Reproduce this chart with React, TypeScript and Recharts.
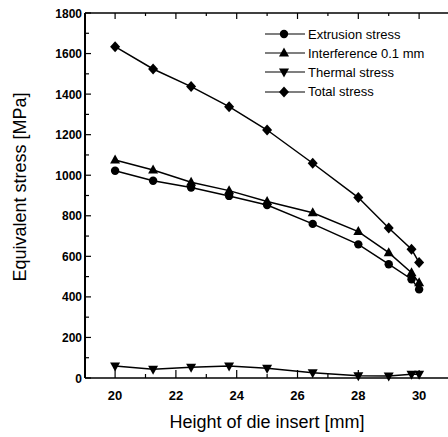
import { LineChart, Line, XAxis, YAxis } from 'recharts';

const heights = [20, 21.25, 22.5, 23.75, 25, 26.5, 28, 29, 29.75, 30];
const extrusion = [1022, 973, 939, 898, 853, 760, 659, 561, 487, 437];
const interference = [1075, 1026, 965, 924, 870, 815, 722, 618, 519, 470];
const thermal = [59, 43, 53, 59, 48, 26, 11, 10, 18, 18];
const total = [1634, 1524, 1437, 1338, 1223, 1059, 890, 740, 635, 569];

const xTicks = [20, 21, 22, 23, 24, 25, 26, 27, 28, 29, 30];
const yTicks = [0, 100, 200, 300, 400, 500, 600, 700, 800, 900, 1000, 1100, 1200, 1300, 1400, 1500, 1600, 1700, 1800];

const series = [
  { key: 'extrusion', name: 'Extrusion stress', shape: 'circle' },
  { key: 'interference', name: 'Interference 0.1 mm', shape: 'up' },
  { key: 'thermal', name: 'Thermal stress', shape: 'down' },
  { key: 'total', name: 'Total stress', shape: 'diamond' },
];

const dados = heights.map((x, i) => ({
  x,
  extrusion: extrusion[i],
  interference: interference[i],
  thermal: thermal[i],
  total: total[i],
}));

const fonte = '"Liberation Sans", Arial, sans-serif';

function marcador(shape: string, cx: number, cy: number, key?: any) {
  switch (shape) {
    case 'circle':
      return <circle key={key} cx={cx} cy={cy} r={4.2} fill="#000" />;
    case 'up':
      return <path key={key} d={`M${cx},${cy - 5.5}L${cx + 5},${cy + 3.5}L${cx - 5},${cy + 3.5}Z`} fill="#000" />;
    case 'down':
      return <path key={key} d={`M${cx},${cy + 5.5}L${cx + 5},${cy - 3.5}L${cx - 5},${cy - 3.5}Z`} fill="#000" />;
    default:
      return <path key={key} d={`M${cx},${cy - 5.5}L${cx + 5},${cy}L${cx},${cy + 5.5}L${cx - 5},${cy}Z`} fill="#000" />;
  }
}

const TickInferior = ({ x, y, payload }: any) => {
  const maior = payload.value % 2 === 0;
  return (
    <g>
      <line x1={x} x2={x} y1={y} y2={y - (maior ? 8 : 4)} stroke="#000" strokeWidth={1.2} />
      {maior && (
        <text x={x} y={y + 22} textAnchor="middle" fontSize={13} fontWeight="bold" fontFamily={fonte} fill="#000">
          {payload.value}
        </text>
      )}
    </g>
  );
};

const TickSuperior = ({ x, y, payload }: any) => {
  const maior = payload.value % 2 === 0;
  return <line x1={x} x2={x} y1={y} y2={y + (maior ? 6 : 3)} stroke="#000" strokeWidth={1.2} />;
};

const TickEsquerda = ({ x, y, payload }: any) => {
  const maior = payload.value % 200 === 0;
  return (
    <g>
      <line x1={x} x2={x + (maior ? 6 : 4)} y1={y} y2={y} stroke="#000" strokeWidth={1.2} />
      {maior && (
        <text x={x - 3} y={y + 4.5} textAnchor="end" fontSize={12} fontWeight="bold" fontFamily={fonte} fill="#000">
          {payload.value}
        </text>
      )}
    </g>
  );
};

const TickDireita = ({ x, y, payload }: any) => {
  const maior = payload.value % 200 === 0;
  return <line x1={x} x2={x - (maior ? 5 : 2.5)} y1={y} y2={y} stroke="#000" strokeWidth={1.4} />;
};

const Legenda = () => (
  <div
    style={{
      position: 'absolute',
      left: 265,
      top: 24.5,
      fontFamily: fonte,
      fontSize: 13,
      color: '#000',
      pointerEvents: 'none',
    }}
  >
    {series.map((s) => (
      <div key={s.key} style={{ display: 'flex', alignItems: 'center', height: 19.2, whiteSpace: 'nowrap' }}>
        <svg width={43} height={14} style={{ display: 'block' }}>
          <line x1={0} x2={40} y1={7} y2={7} stroke="#000" strokeWidth={1.2} />
          {marcador(s.shape, 19, 7)}
        </svg>
        <span>{s.name}</span>
      </div>
    ))}
  </div>
);

export default function App() {
  return (
    <div style={{ position: 'absolute', left: 0, top: 0, width: 448, height: 437, background: '#fff' }}>
      <LineChart width={448} height={437} data={dados} margin={{ top: 0, right: 0, bottom: 0, left: 0 }}>
        <XAxis
          xAxisId="base"
          dataKey="x"
          type="number"
          domain={[19.01, 30.95]}
          allowDataOverflow
          ticks={xTicks}
          interval={0}
          height={59}
          tickSize={0}
          tickMargin={0}
          tick={<TickInferior />}
          axisLine={{ stroke: '#000', strokeWidth: 1.5 }}
          label={{
            content: () => (
              <text x={267} y={428} textAnchor="middle" fontSize={18} fontFamily={fonte} fill="#000">
                Height of die insert [mm]
              </text>
            ),
          }}
        />
        <XAxis
          xAxisId="topo"
          orientation="top"
          dataKey="x"
          type="number"
          domain={[19.01, 30.95]}
          allowDataOverflow
          ticks={xTicks}
          interval={0}
          height={13}
          tickSize={0}
          tickMargin={0}
          tick={<TickSuperior />}
          axisLine={{ stroke: '#000', strokeWidth: 1.5 }}
        />
        <YAxis
          yAxisId="esq"
          type="number"
          domain={[0, 1800]}
          ticks={yTicks}
          interval={0}
          width={85}
          tickSize={0}
          tickMargin={0}
          tick={<TickEsquerda />}
          axisLine={{ stroke: '#000', strokeWidth: 2 }}
          label={{
            content: () => (
              <text
                x={26}
                y={187}
                textAnchor="middle"
                fontSize={18}
                fontFamily={fonte}
                fill="#000"
                transform="rotate(-90, 26, 187)"
              >
                Equivalent stress [MPa]
              </text>
            ),
          }}
        />
        <YAxis
          yAxisId="dir"
          orientation="right"
          type="number"
          domain={[0, 1800]}
          ticks={yTicks}
          interval={0}
          width={0}
          tickSize={0}
          tickMargin={0}
          tick={<TickDireita />}
          axisLine={false}
        />
        {series.map((s) => (
          <Line
            key={s.key}
            xAxisId="base"
            yAxisId="esq"
            dataKey={s.key}
            name={s.name}
            stroke="#000"
            strokeWidth={1.5}
            isAnimationActive={false}
            dot={(p: any) => marcador(s.shape, p.cx, p.cy, `${s.key}-${p.index}`)}
            activeDot={false}
          />
        ))}
      </LineChart>
      <Legenda />
    </div>
  );
}
